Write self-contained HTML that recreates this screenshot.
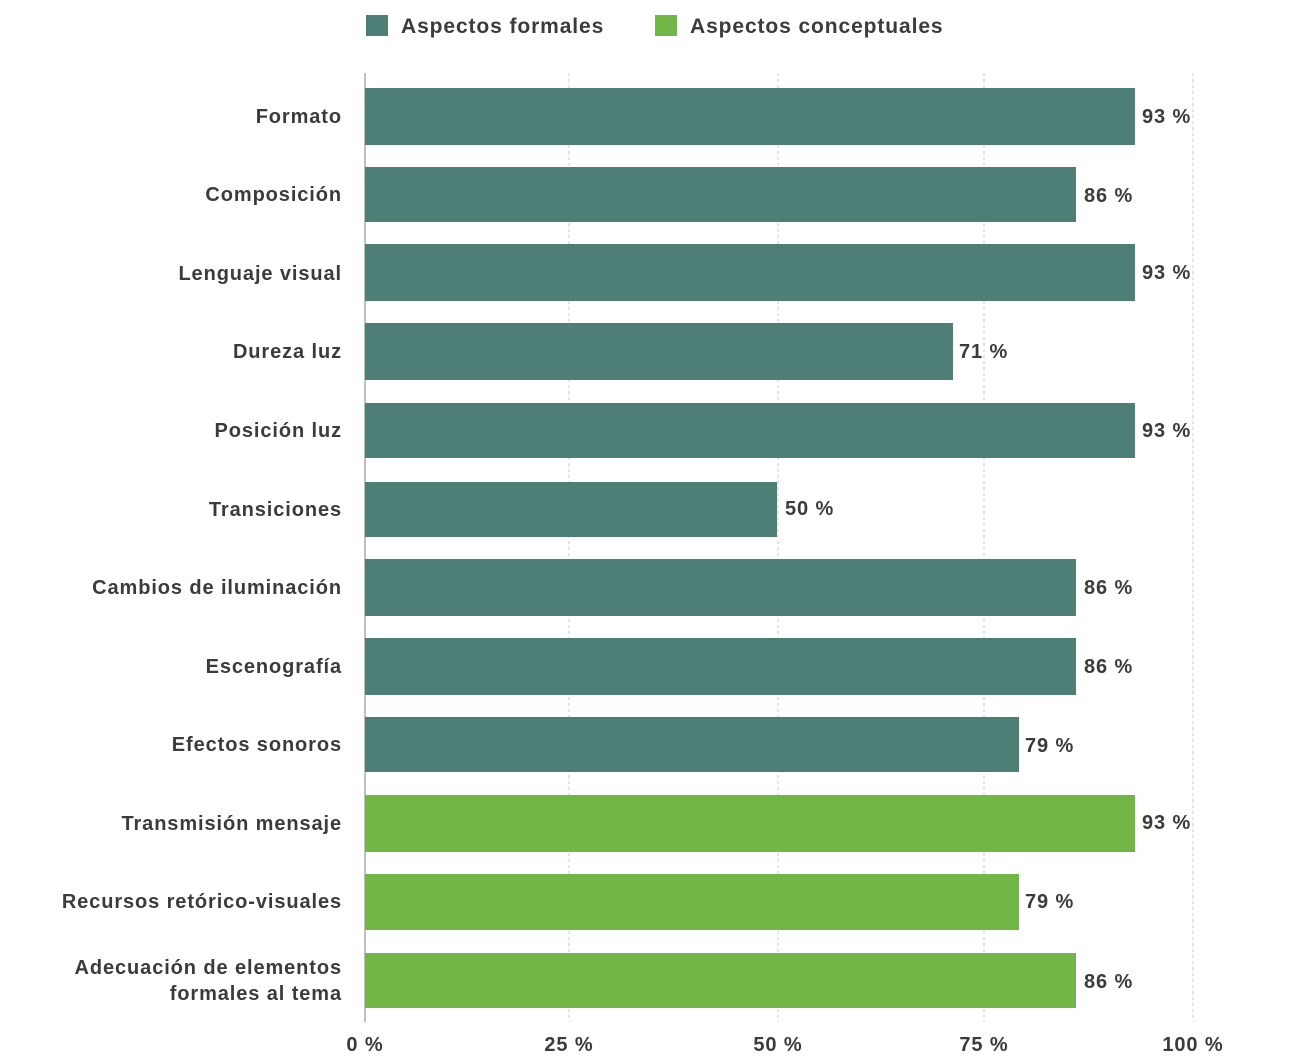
<!DOCTYPE html>
<html><head><meta charset="utf-8"><style>
html,body{margin:0;padding:0;background:#fff;}
svg{display:block;}
text{font-family:"Liberation Sans",sans-serif;font-weight:bold;fill:#3b3b3b;letter-spacing:0.9px;}
</style></head><body>
<svg width="1298" height="1063" viewBox="0 0 1298 1063" xmlns="http://www.w3.org/2000/svg">
<rect x="366" y="15" width="22" height="21" fill="#4e7f77"/>
<text x="401" y="33" font-size="21">Aspectos formales</text>
<rect x="655" y="15" width="22" height="21" fill="#72b648"/>
<text x="690" y="33" font-size="21">Aspectos conceptuales</text>
<g stroke="#c8c8c8" stroke-width="1" stroke-dasharray="3,3">
<line x1="569" y1="73" x2="569" y2="1022"/>
<line x1="778" y1="73" x2="778" y2="1022"/>
<line x1="984" y1="73" x2="984" y2="1022"/>
<line x1="1193" y1="73" x2="1193" y2="1022"/>
</g>
<line x1="365" y1="73" x2="365" y2="1022" stroke="#aaa" stroke-width="1.5"/>
<g font-size="20">
<rect x="365" y="88" width="770" height="57" fill="#4e7f77"/>
<text x="342" y="123" text-anchor="end">Formato</text><text x="1142" y="123">93 %</text>
<rect x="365" y="167" width="711" height="55" fill="#4e7f77"/>
<text x="342" y="201" text-anchor="end">Composición</text><text x="1084" y="202">86 %</text>
<rect x="365" y="244" width="770" height="57" fill="#4e7f77"/>
<text x="342" y="280" text-anchor="end">Lenguaje visual</text><text x="1142" y="279">93 %</text>
<rect x="365" y="323" width="588" height="57" fill="#4e7f77"/>
<text x="342" y="358" text-anchor="end">Dureza luz</text><text x="959" y="358">71 %</text>
<rect x="365" y="403" width="770" height="55" fill="#4e7f77"/>
<text x="342" y="437" text-anchor="end">Posición luz</text><text x="1142" y="437">93 %</text>
<rect x="365" y="482" width="412" height="55" fill="#4e7f77"/>
<text x="342" y="516" text-anchor="end">Transiciones</text><text x="785" y="515">50 %</text>
<rect x="365" y="559" width="711" height="57" fill="#4e7f77"/>
<text x="342" y="594" text-anchor="end">Cambios de iluminación</text><text x="1084" y="594">86 %</text>
<rect x="365" y="638" width="711" height="57" fill="#4e7f77"/>
<text x="342" y="673" text-anchor="end">Escenografía</text><text x="1084" y="673">86 %</text>
<rect x="365" y="717" width="654" height="55" fill="#4e7f77"/>
<text x="342" y="751" text-anchor="end">Efectos sonoros</text><text x="1025" y="752">79 %</text>
<rect x="365" y="795" width="770" height="57" fill="#72b648"/>
<text x="342" y="830" text-anchor="end">Transmisión mensaje</text><text x="1142" y="829">93 %</text>
<rect x="365" y="874" width="654" height="56" fill="#72b648"/>
<text x="342" y="908" text-anchor="end">Recursos retórico-visuales</text><text x="1025" y="908">79 %</text>
<rect x="365" y="953" width="711" height="55" fill="#72b648"/>
<text x="342" y="974" text-anchor="end">Adecuación de elementos</text>
<text x="342" y="1000" text-anchor="end">formales al tema</text><text x="1084" y="988">86 %</text>
<text x="365" y="1051" text-anchor="middle">0 %</text>
<text x="569" y="1051" text-anchor="middle">25 %</text>
<text x="778" y="1051" text-anchor="middle">50 %</text>
<text x="984" y="1051" text-anchor="middle">75 %</text>
<text x="1193" y="1051" text-anchor="middle">100 %</text>
</g>
</svg>
</body></html>
